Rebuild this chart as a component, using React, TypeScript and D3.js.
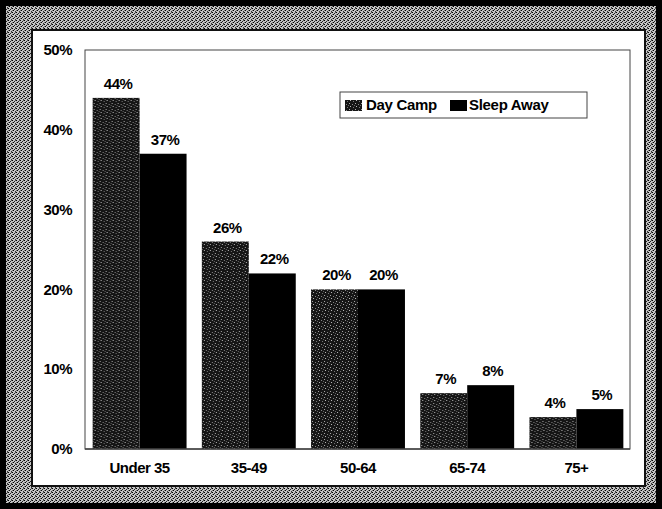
import React from "react";
import * as d3 from "d3";

const categories = ["Under 35", "35-49", "50-64", "65-74", "75+"];
const seriesNames = ["Day Camp", "Sleep Away"];
const dayCamp = [44, 26, 20, 7, 4];
const sleepAway = [37, 22, 20, 8, 5];
const yTicks = [0, 10, 20, 30, 40, 50];

const W = 662;
const H = 509;
const font = "'Liberation Sans', Arial, sans-serif";

const App = () => {
  // plot area
  const left = 85;
  const right = 631;
  const top = 50;
  const bottom = 449;

  const x = d3
    .scaleBand()
    .domain(categories)
    .range([left, right])
    .paddingInner(0.14)
    .paddingOuter(0.07);

  const xs = d3
    .scaleBand()
    .domain(seriesNames)
    .range([0, x.bandwidth()]);

  const y = d3.scaleLinear().domain([0, 50]).range([bottom, top]);

  const series = [dayCamp, sleepAway];
  const fills = ["url(#dayPat)", "#000"];

  return (
    <svg
      width={W}
      height={H}
      style={{ position: "absolute", left: 0, top: 0 }}
      fontFamily={font}
    >
      <defs>
        <pattern id="framePat" width="4" height="4" patternUnits="userSpaceOnUse">
          <rect width="4" height="4" fill="#c4c4c4" />
          <rect x="0" y="0" width="1" height="1" fill="#000" />
          <rect x="2" y="1" width="1" height="1" fill="#222" />
          <rect x="1" y="2" width="1" height="1" fill="#000" />
          <rect x="3" y="3" width="1" height="1" fill="#333" />
          <rect x="3" y="0" width="1" height="1" fill="#555" />
          <rect x="0" y="2" width="1" height="1" fill="#777" />
        </pattern>
        <pattern id="dayPat" width="6" height="6" patternUnits="userSpaceOnUse">
          <rect width="6" height="6" fill="#151515" />
          <rect x="1" y="1" width="1" height="1" fill="#aaa" />
          <rect x="4" y="2" width="1" height="1" fill="#888" />
          <rect x="2" y="4" width="1" height="1" fill="#bbb" />
          <rect x="5" y="5" width="1" height="1" fill="#777" />
          <rect x="0" y="3" width="1" height="1" fill="#666" />
        </pattern>
      </defs>

      {/* scanned frame */}
      <rect x={0} y={0} width={W} height={H} fill="url(#framePat)" />
      <rect x={3} y={3} width={W - 6} height={H - 6} fill="none" stroke="#000" strokeWidth={6} />
      <rect x={32} y={30} width={613} height={456} fill="#fff" stroke="#111" strokeWidth={2} />

      {/* plot frame */}
      <rect
        x={left}
        y={top}
        width={right - left - 1}
        height={bottom - top}
        fill="none"
        stroke="#444"
        strokeWidth={1}
      />

      {/* y axis labels */}
      {yTicks.map((t) => (
        <text
          key={t}
          x={72}
          y={y(t)}
          dy="0.35em"
          textAnchor="end"
          fontSize={15}
          fontWeight="bold"
          letterSpacing={-0.5}
        >
          {t}%
        </text>
      ))}

      {/* bars */}
      {categories.map((c, i) => (
        <g key={c} transform={`translate(${x(c)},0)`}>
          {series.map((s, j) => (
            <g key={seriesNames[j]}>
              <rect
                x={xs(seriesNames[j])}
                y={y(s[i])}
                width={xs.bandwidth()}
                height={y(0) - y(s[i])}
                fill={fills[j]}
              />
              <text
                x={(xs(seriesNames[j]) as number) + xs.bandwidth() / 2 + 2}
                y={y(s[i]) - 9}
                textAnchor="middle"
                fontSize={15}
                fontWeight="bold"
                letterSpacing={-0.5}
              >
                {s[i]}%
              </text>
            </g>
          ))}
        </g>
      ))}

      {/* x axis line */}
      <line x1={left} x2={right - 1} y1={bottom} y2={bottom} stroke="#444" strokeWidth={1.5} />

      {/* category labels */}
      {categories.map((c) => (
        <text
          key={c}
          x={(x(c) as number) + x.bandwidth() / 2}
          y={468}
          dy="0.35em"
          textAnchor="middle"
          fontSize={15}
          fontWeight="bold"
          letterSpacing={-0.5}
        >
          {c}
        </text>
      ))}

      {/* legend */}
      <g>
        <rect x={340} y={92} width={247} height={26} fill="#fff" stroke="#444" strokeWidth={1} />
        <rect x={345} y={100} width={17} height={11} fill="url(#dayPat)" />
        <text x={366} y={105} dy="0.35em" fontSize={15} fontWeight="bold" letterSpacing={-0.3}>
          {seriesNames[0]}
        </text>
        <rect x={450} y={100} width={17} height={11} fill="#000" />
        <text x={469} y={105} dy="0.35em" fontSize={15} fontWeight="bold" letterSpacing={-0.3}>
          {seriesNames[1]}
        </text>
      </g>
    </svg>
  );
};

export default App;
